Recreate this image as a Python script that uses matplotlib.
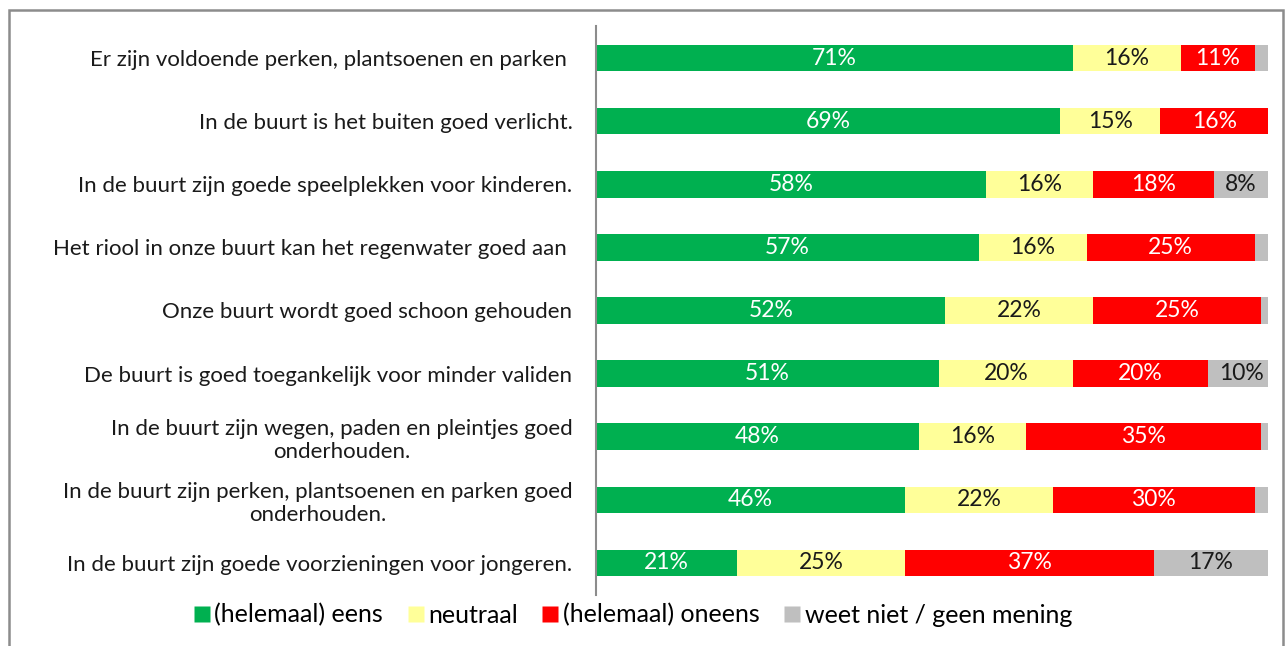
import matplotlib.pyplot as plt
import numpy as np
from matplotlib.patches import Rectangle
from matplotlib.lines import Line2D

plt.rcParams['font.family'] = ['Lato', 'DejaVu Sans']

# stellingen, van boven naar beneden
stellingen = [
    "Er zijn voldoende perken, plantsoenen en parken ",
    "In de buurt is het buiten goed verlicht.",
    "In de buurt zijn goede speelplekken voor kinderen.",
    "Het riool in onze buurt kan het regenwater goed aan ",
    "Onze buurt wordt goed schoon gehouden",
    "De buurt is goed toegankelijk voor minder validen",
    "In de buurt zijn wegen, paden en pleintjes goed\nonderhouden.",
    "In de buurt zijn perken, plantsoenen en parken goed\nonderhouden.",
    "In de buurt zijn goede voorzieningen voor jongeren.",
]
eens = [71, 69, 58, 57, 52, 51, 48, 46, 21]
neutraal = [16, 15, 16, 16, 22, 20, 16, 22, 25]
oneens = [11, 16, 18, 25, 25, 20, 35, 30, 37]
weet_niet = [2, 0, 8, 2, 1, 10, 1, 2, 17]

reeksen = ["(helemaal) eens", "neutraal", "(helemaal) oneens", "weet niet / geen mening"]
kleuren = ["#00B050", "#FFFF99", "#FF0000", "#BFBFBF"]
tekstkleur = ["white", "#1a1a1a", "white", "#1a1a1a"]
min_label = [3, 3, 3, 5]

fig = plt.figure(figsize=(12.85, 6.46), dpi=100)
ax = fig.add_axes([596 / 1285, 1 - 594.5 / 646, 672 / 1285, 568 / 646])

y = np.arange(len(stellingen))
links = np.zeros(len(stellingen))
for data, kleur, tk, mn in zip([eens, neutraal, oneens, weet_niet], kleuren, tekstkleur, min_label):
    data = np.array(data, dtype=float)
    ax.barh(y, data, left=links, height=0.42, color=kleur, edgecolor='none')
    for yi, l, v in zip(y, links, data):
        if v >= mn:
            ax.text(l + v / 2, yi, f"{int(v)}%", ha='center', va='center',
                    color=tk, fontsize=16.5)
    links += data

ax.set_xlim(0, 100)
ax.set_ylim(len(stellingen) - 0.5, -0.5)
ax.set_yticks(y)
ax.set_yticklabels(stellingen, fontsize=16, color='#1a1a1a', multialignment='center')
ax.tick_params(axis='y', length=0, pad=17)
ax.set_xticks([])
for s in ['top', 'right', 'bottom']:
    ax.spines[s].set_visible(False)
ax.spines['left'].set_color('#8c8c8c')
ax.spines['left'].set_linewidth(1.5)

# kader rond de grafiek
fig.patches.append(Rectangle((9 / 1285, -0.05), 1274 / 1285, 1.05 - 10 / 646,
                             transform=fig.transFigure, fill=False,
                             edgecolor='#8c8c8c', linewidth=1.8))

handles = [Line2D([], [], marker='s', linestyle='none', markersize=12,
                  markerfacecolor=k, markeredgecolor='none') for k in kleuren]
fig.legend(handles, reeksen, loc='center', bbox_to_anchor=(632 / 1285, 1 - 615 / 646),
           ncol=4, frameon=False, fontsize=18, handletextpad=0.1, columnspacing=0.9,
           handlelength=0.8)

fig.savefig("out.png", dpi=100)
